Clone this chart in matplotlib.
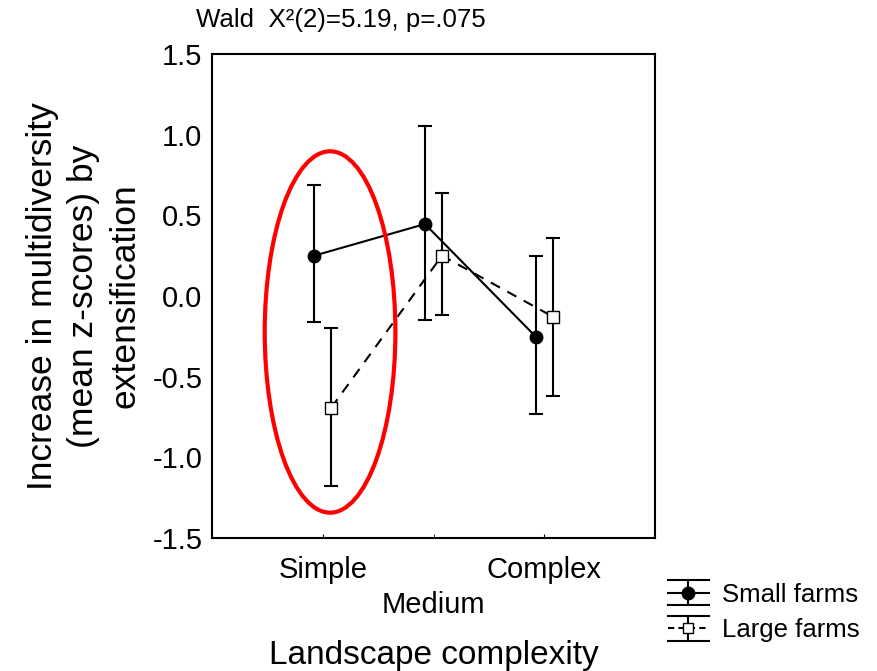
import matplotlib
matplotlib.use("Agg")
import matplotlib.pyplot as plt
import numpy as np
from matplotlib.patches import Ellipse
from matplotlib.legend_handler import HandlerBase
from matplotlib.lines import Line2D

plt.rcParams['font.family'] = ['Liberation Sans', 'DejaVu Sans']

categories = ["Simple", "Medium", "Complex"]
small_mean = [0.25, 0.446, -0.252]
small_low = [-0.161, -0.151, -0.733]
small_high = [0.686, 1.052, 0.248]
large_mean = [-0.692, 0.25, -0.128]
large_low = [-1.18, -0.118, -0.62]
large_high = [-0.198, 0.64, 0.36]
series_names = ["Small farms", "Large farms"]
title_text = "Wald  X²(2)=5.19, p=.075"

fig = plt.figure(figsize=(8.77, 6.71), dpi=100)
ax = fig.add_axes([212/877, 1-538/671, 443/877, 484/671])

x = np.arange(len(categories))
off = 0.077

def draw(xpos, mean, low, high, marker, mfc, ls):
    mean = np.array(mean); low = np.array(low); high = np.array(high)
    yerr = np.vstack([mean - low, high - mean])
    ax.errorbar(xpos, mean, yerr=yerr, fmt='none', ecolor='black', elinewidth=1.5,
                capsize=5, capthick=1.5, zorder=2)
    ax.plot(xpos, mean, color='black', lw=1.5, ls=ls, zorder=3)
    ax.plot(xpos, mean, ls='none', marker=marker, ms=9, mfc=mfc, mec='black',
            mew=1.0, zorder=4)

draw(x - off, small_mean, small_low, small_high, 'o', 'black', '-')
draw(x + off, large_mean, large_low, large_high, 's', 'white', (0, (5, 4)))

ell = Ellipse((0.066, -0.223), width=1.18, height=2.24, fill=False,
              edgecolor='#ff0000', lw=3, zorder=5)
ax.add_patch(ell)

ax.set_xlim(-1, 3)
ax.set_ylim(-1.5, 1.5)
ax.set_yticks([-1.5, -1.0, -0.5, 0.0, 0.5, 1.0, 1.5])
ax.set_yticklabels(["-1.5", "-1.0", "-0.5", "0.0", "0.5", "1.0", "1.5"])
ax.tick_params(axis='y', length=0, pad=7, labelsize=21)
ax.set_xticks([0, 2])
ax.set_xticklabels([categories[0], categories[2]])
ax.set_xticks([1], [categories[1]], minor=True)
ax.tick_params(axis='x', which='major', direction='in', length=3, pad=13, labelsize=21)
ax.tick_params(axis='x', which='minor', direction='in', length=3, pad=38, labelsize=21)
for s in ax.spines.values():
    s.set_linewidth(1.5)

ax.set_ylabel("Increase in multidiversity\n(mean z-scores) by\nextensification",
              fontsize=25.5, linespacing=1.32, labelpad=8)
ax.set_xlabel("Landscape complexity", fontsize=24, labelpad=15)

fig.text(196/877, 1-20/671, title_text, fontsize=18.6, ha='left', va='center')


class ErrHandler(HandlerBase):
    def __init__(self, marker, mfc, ls):
        super().__init__()
        self.marker = marker; self.mfc = mfc; self.ls = ls

    def create_artists(self, legend, orig_handle, xdescent, ydescent, width, height,
                       fontsize, trans):
        cx = width / 2 - xdescent
        cy = height / 2 - ydescent
        h = height * 0.7
        arts = []
        arts.append(Line2D([-xdescent, width - xdescent], [cy + h, cy + h], color='black', lw=1.5))
        arts.append(Line2D([-xdescent, width - xdescent], [cy - h, cy - h], color='black', lw=1.5))
        arts.append(Line2D([cx, cx], [cy - h, cy + h], color='black', lw=1.5))
        arts.append(Line2D([-xdescent, width - xdescent], [cy, cy], color='black', lw=1.5, ls=self.ls))
        arts.append(Line2D([cx], [cy], marker=self.marker, ms=9 if self.marker == 'o' else 7.5,
                           mfc=self.mfc, mec='black', mew=1.0, ls='none'))
        for a in arts:
            a.set_transform(trans)
        return arts

h1 = Line2D([], [], color='black')
h2 = Line2D([], [], color='black', ls='--')
fig.legend([h1, h2], series_names, loc='lower left',
           bbox_to_anchor=(655/877, 1 - 655/671), frameon=False, fontsize=18.5,
           handlelength=1.6, handletextpad=0.5, labelspacing=0.45, borderpad=0,
           handler_map={h1: ErrHandler('o', 'black', '-'),
                        h2: ErrHandler('s', 'white', (0, (3, 2)))})

fig.savefig("out.png", dpi=100)
